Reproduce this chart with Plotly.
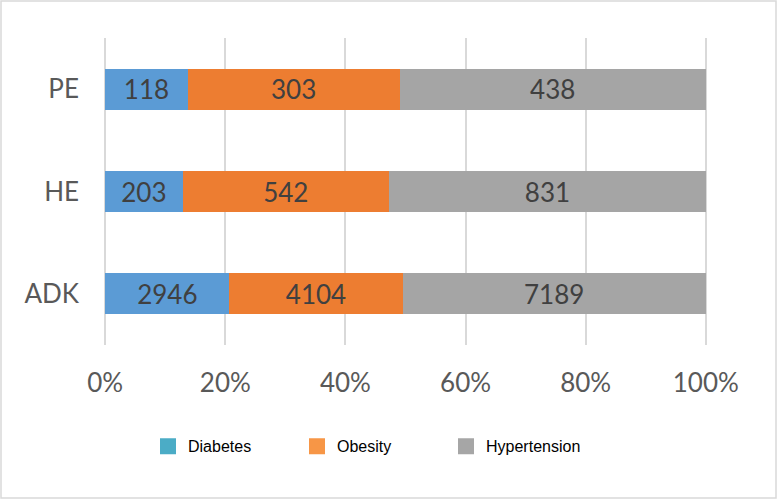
import plotly.graph_objects as go

categories = ["ADK", "HE", "PE"]
diabetes = [2946, 203, 118]
obesity = [4104, 542, 303]
hypertension = [7189, 831, 438]
series_names = ["Diabetes", "Obesity", "Hypertension"]
bar_colors = ["#5B9BD5", "#ED7D31", "#A5A5A5"]
legend_colors = ["#4BACC6", "#F79646", "#A6A6A6"]
tick_vals = [0, 0.2, 0.4, 0.6, 0.8, 1.0]
tick_text = ["0%", "20%", "40%", "60%", "80%", "100%"]

totals = [d + o + h for d, o, h in zip(diabetes, obesity, hypertension)]

fig = go.Figure()
for name, vals, col in zip(series_names, [diabetes, obesity, hypertension], bar_colors):
    fig.add_trace(go.Bar(
        y=categories,
        x=[v / t for v, t in zip(vals, totals)],
        orientation="h",
        name=name,
        showlegend=False,
        marker=dict(color=col, line=dict(width=0)),
        text=[str(v) for v in vals],
        textposition="inside",
        insidetextanchor="middle",
        textangle=0,
        textfont=dict(family="Lato, Open Sans, sans-serif", size=26, color="#404040"),
        hoverinfo="skip",
    ))

# legend entries (swatches in the legend's own colours)
for name, col in zip(series_names, legend_colors):
    fig.add_trace(go.Scatter(
        x=[None], y=[None], mode="markers", name=name,
        marker=dict(symbol="square", size=16, color=col),
        showlegend=True, hoverinfo="skip",
    ))

W, H = 778, 500
ml, mr, mt, mb = 104, 71, 38, 155
pw, ph = W - ml - mr, H - mt - mb

fig.update_layout(
    width=W, height=H,
    barmode="stack",
    bargap=0.6,
    margin=dict(l=ml, r=mr, t=mt, b=mb),
    paper_bgcolor="white",
    plot_bgcolor="white",
    showlegend=True,
    legend=dict(
        orientation="h",
        traceorder="normal",
        x=(148 - ml) / pw, xanchor="left",
        y=-0.33, yanchor="middle",
        font=dict(family="Liberation Sans, Arial, sans-serif", size=16, color="#000000"),
        entrywidth=104,
        itemsizing="trace",
    ),
    xaxis=dict(
        range=[-0.002, 1.002],
        tickvals=tick_vals,
        ticktext=tick_text,
        showgrid=True,
        gridcolor="#D9D9D9",
        gridwidth=1.5,
        zeroline=False,
        showline=False,
        tickfont=dict(family="Lato, Open Sans, sans-serif", size=26, color="#595959"),
        ticklabelstandoff=20,
    ),
    yaxis=dict(
        categoryorder="array",
        categoryarray=categories,
        range=[-0.5, 2.5],
        showgrid=False,
        zeroline=False,
        showline=False,
        tickfont=dict(family="Lato, Open Sans, sans-serif", size=26, color="#595959"),
        ticklabelstandoff=24,
    ),
    shapes=[dict(
        type="rect", xref="paper", yref="paper",
        x0=(1 - ml) / pw, x1=(W - 2 - ml) / pw,
        y0=(H - mb - (H - 2)) / ph, y1=1 + (mt - 1) / ph,
        line=dict(color="#D9D9D9", width=1.5),
        fillcolor="rgba(0,0,0,0)",
        layer="below",
    )],
)

fig.write_html(
    "out.html",
    config={"displayModeBar": False},
    post_script="document.body.style.margin='0';document.body.style.overflow='hidden';",
)
